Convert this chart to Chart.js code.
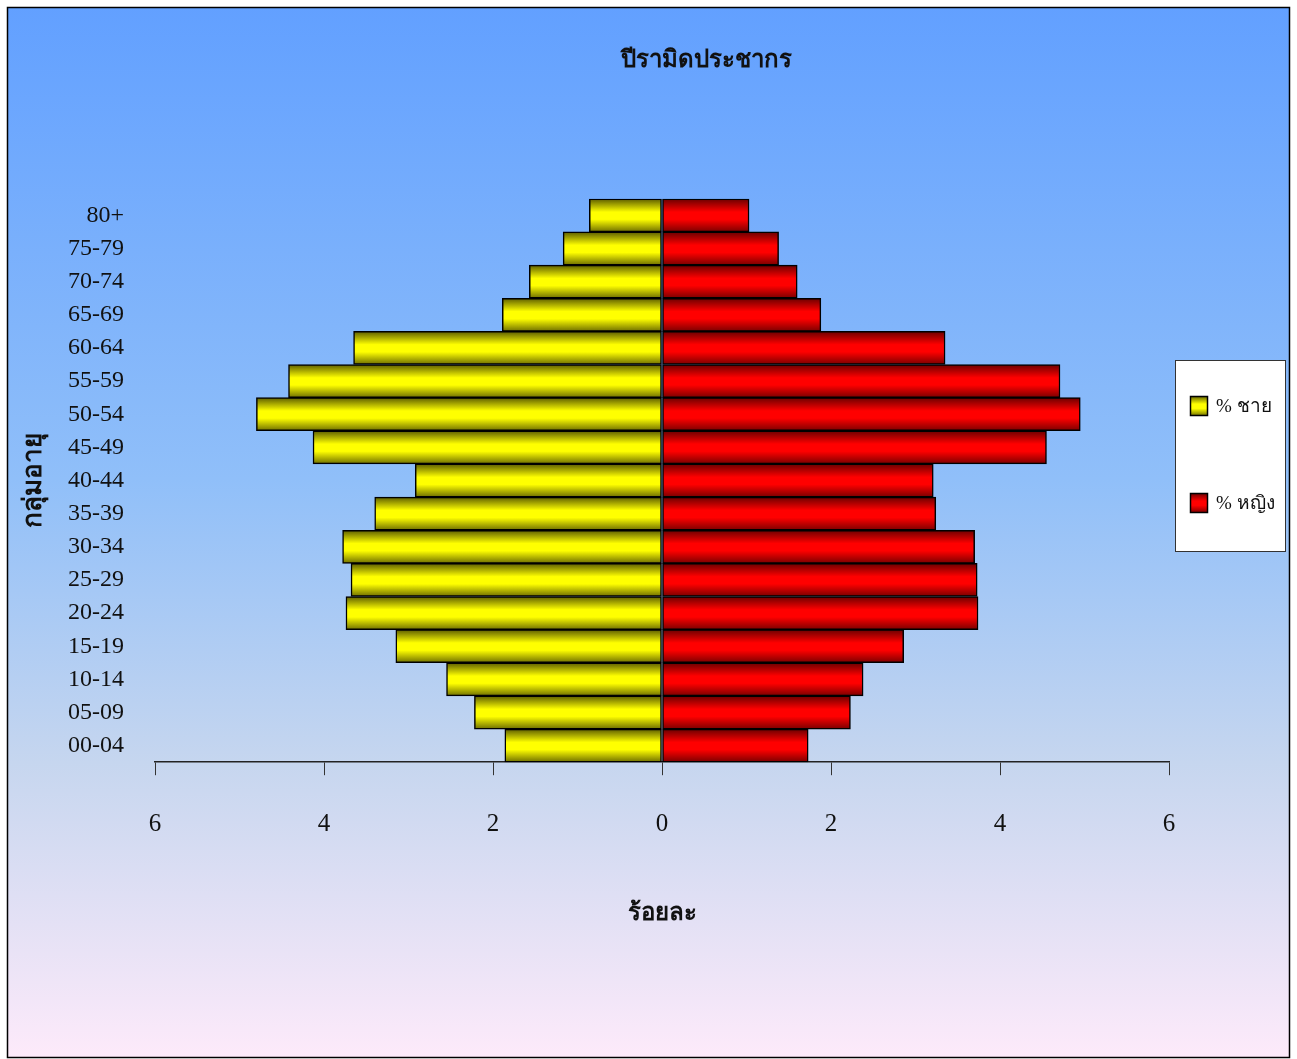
<!DOCTYPE html>
<html>
<head>
<meta charset="utf-8">
<script src="https://cdn.jsdelivr.net/npm/chart.js@4.4.1/dist/chart.umd.min.js"></script>
<style>
  html, body { margin: 0; padding: 0; background: #ffffff; }
  #wrap { position: relative; width: 1297px; height: 1059px; }
  canvas { display: block; }
</style>
</head>
<body>
<div id="wrap"><canvas id="c" width="1297" height="1059"></canvas></div>
<script>
// ---- data ----
const categories = ['00-04','05-09','10-14','15-19','20-24','25-29','30-34','35-39','40-44','45-49','50-54','55-59','60-64','65-69','70-74','75-79','80+'];
const malePct   = [1.86, 2.22, 2.55, 3.15, 3.74, 3.68, 3.78, 3.40, 2.92, 4.13, 4.80, 4.42, 3.65, 1.89, 1.57, 1.17, 0.86];
const femalePct = [1.73, 2.23, 2.38, 2.86, 3.74, 3.73, 3.70, 3.24, 3.21, 4.55, 4.95, 4.71, 3.35, 1.88, 1.60, 1.38, 1.03];
const xTicks = [-6, -4, -2, 0, 2, 4, 6];
const titleText = 'ปีรามิดประชากร';
const xTitle = 'ร้อยละ';
const yTitle = 'กลุ่มอายุ';
const maleLabel = '% ชาย';
const femaleLabel = '% หญิง';

const maleValues = malePct.map(v => -v);

const FONT = '"Liberation Serif", "DejaVu Serif", "Noto Sans", serif';

const yellowStops = [[0, '#5c5c00'], [0.4, '#ffff00'], [0.62, '#ffff00'], [1, '#6e6e00']];
const redStops = [[0, '#6a0000'], [0.4, '#ff0000'], [0.62, '#ff0000'], [1, '#7a0000']];

function makeGrad(ctx2d, y0, y1, stops) {
  const g = ctx2d.createLinearGradient(0, y0, 0, y1);
  stops.forEach(s => g.addColorStop(s[0], s[1]));
  return g;
}

function barFill(stops, fallback) {
  return (context) => {
    const chart = context.chart;
    const ys = chart.scales && chart.scales.y;
    const area = chart.chartArea;
    if (!ys || !area || context.dataIndex === undefined) return fallback;
    const c = ys.getPixelForValue(context.dataIndex);
    const half = (area.bottom - area.top) / categories.length / 2;
    return makeGrad(chart.ctx, c - half, c + half, stops);
  };
}

const framePlugin = {
  id: 'frame',
  beforeDraw(chart) {
    const ctx = chart.ctx;
    const W = chart.width, H = chart.height;
    ctx.save();
    ctx.fillStyle = '#ffffff';
    ctx.fillRect(0, 0, W, H);
    const g = ctx.createLinearGradient(0, 7, 0, H - 2);
    g.addColorStop(0, '#62a0ff');
    g.addColorStop(0.45, '#90bff9');
    g.addColorStop(0.72, '#c6d6ef');
    g.addColorStop(1, '#fdeafa');
    ctx.fillStyle = g;
    ctx.fillRect(7, 7, 1283, H - 9);
    ctx.strokeStyle = '#000000';
    ctx.lineWidth = 1.5;
    ctx.strokeRect(7.5, 7.5, 1282, H - 9);
    ctx.restore();
  }
};

const legendBoxPlugin = {
  id: 'legendBox',
  afterDraw(chart) {
    const ctx = chart.ctx;
    ctx.save();
    ctx.fillStyle = '#ffffff';
    ctx.fillRect(1175, 360, 111, 192);
    ctx.strokeStyle = '#333333';
    ctx.lineWidth = 1;
    ctx.strokeRect(1175.5, 360.5, 110, 191);
    const items = [
      { label: maleLabel, stops: yellowStops, cy: 406 },
      { label: femaleLabel, stops: redStops, cy: 503 }
    ];
    items.forEach(it => {
      const x = 1190, y = it.cy - 10;
      ctx.fillStyle = makeGrad(ctx, y, y + 20, it.stops);
      ctx.fillRect(x, y, 18, 20);
      ctx.strokeStyle = '#000000';
      ctx.lineWidth = 1.5;
      ctx.strokeRect(x + 0.5, y + 0.5, 17, 19);
      ctx.fillStyle = '#111111';
      ctx.font = '19px ' + FONT;
      ctx.textBaseline = 'middle';
      ctx.textAlign = 'left';
      ctx.fillText(it.label, 1216, it.cy + 1);
    });
    ctx.restore();
  }
};

new Chart(document.getElementById('c'), {
  type: 'bar',
  data: {
    labels: categories,
    datasets: [
      {
        label: maleLabel,
        data: maleValues,
        backgroundColor: barFill(yellowStops, '#ffff00'),
        borderColor: '#000000',
        borderWidth: 1.5,
        borderSkipped: false,
        categoryPercentage: 1.0,
        barPercentage: 1.0
      },
      {
        label: femaleLabel,
        data: femalePct,
        backgroundColor: barFill(redStops, '#ff0000'),
        borderColor: '#000000',
        borderWidth: 1.5,
        borderSkipped: false,
        categoryPercentage: 1.0,
        barPercentage: 1.0
      }
    ]
  },
  options: {
    indexAxis: 'y',
    responsive: false,
    animation: false,
    events: [],
    // negative right padding widens the full-width title box so the title centres at x≈706 like the reference
    layout: { padding: { left: 0, right: -115, top: 0, bottom: 0 } },
    plugins: {
      legend: { display: false },
      tooltip: { enabled: false },
      title: {
        display: true,
        text: titleText,
        color: '#111111',
        font: { family: FONT, size: 24, weight: 'bold', lineHeight: 1.2 },
        padding: { top: 46, bottom: 124 }
      }
    },
    scales: {
      x: {
        type: 'linear',
        position: 'bottom',
        stacked: true,
        min: -6,
        max: 6,
        afterBuildTicks: (scale) => { scale.ticks = xTicks.map(v => ({ value: v })); },
        ticks: {
          color: '#111111',
          padding: 34,
          font: { family: FONT, size: 25, lineHeight: 1.2 },
          callback: (v) => String(Math.abs(v))
        },
        grid: {
          display: true,
          drawOnChartArea: false,
          drawTicks: true,
          tickLength: 13,
          color: '#333333',
          lineWidth: 1
        },
        border: { display: true, color: '#222222', width: 1.5 },
        title: {
          display: true,
          text: xTitle,
          color: '#111111',
          font: { family: FONT, size: 24, weight: 'bold', lineHeight: 1.2 },
          padding: { top: 26, bottom: 131 }
        }
      },
      y: {
        type: 'category',
        stacked: true,
        reverse: true,
        offset: true,
        afterFit: (scale) => { scale.width = 155; },
        ticks: {
          color: '#111111',
          padding: 31,
          autoSkip: false,
          font: { family: FONT, size: 24, lineHeight: 1.2 }
        },
        grid: { display: false, drawTicks: false },
        border: { display: false },
        title: {
          display: true,
          text: yTitle,
          color: '#111111',
          font: { family: FONT, size: 26, weight: 'bold', lineHeight: 1.2 },
          padding: { top: 19, bottom: 0 }
        }
      },
      yRight: {
        type: 'category',
        position: 'right',
        display: true,
        afterFit: (scale) => { scale.width = 243; },
        ticks: { display: false },
        grid: { display: false, drawTicks: false },
        border: { display: false },
        title: { display: false }
      }
    }
  },
  plugins: [framePlugin, legendBoxPlugin]
});
</script>
</body>
</html>
